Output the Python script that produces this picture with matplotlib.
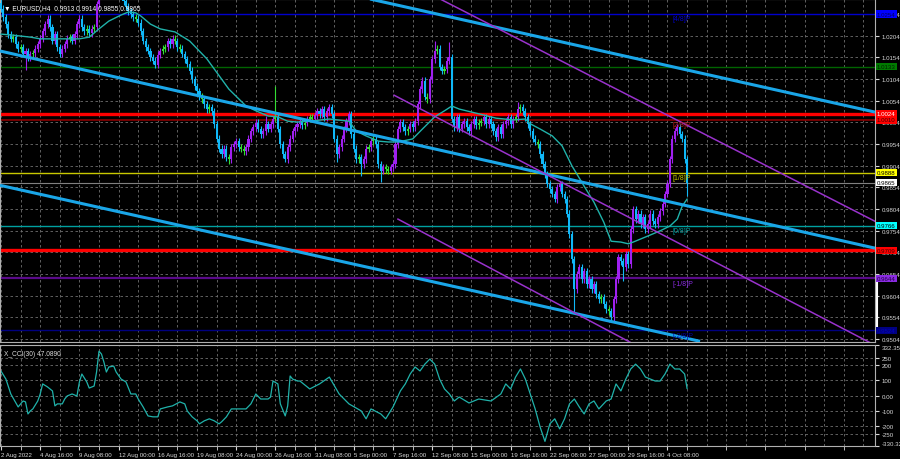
import numpy as np
import matplotlib.pyplot as plt
from matplotlib.transforms import blended_transform_factory

plt.rcParams['font.family'] = ['Liberation Sans', 'DejaVu Sans']

# EURUSD H4, 2 Aug - 5 Oct 2022, closes (one value per bar)
first_open = 1.0280
closes = [
    1.0266, 1.0247, 1.0231, 1.0208, 1.0197, 1.0201, 1.0185, 1.0174, 1.0178, 1.0162,
    1.0169, 1.0155, 1.0162, 1.0164, 1.0174, 1.0185, 1.0197, 1.0215, 1.0231, 1.0243,
    1.0224, 1.0192, 1.0208, 1.0178, 1.0162, 1.0174, 1.0185, 1.0197, 1.0201, 1.0192,
    1.0208, 1.0231, 1.0243, 1.0224, 1.0215, 1.0220, 1.0210, 1.0220, 1.0224, 1.0277,
    1.0301, 1.0317, 1.0331, 1.0312, 1.0324, 1.0340, 1.0354, 1.0335, 1.0321, 1.0307,
    1.0284, 1.0271, 1.0261, 1.0254, 1.0247, 1.0243, 1.0234, 1.0215, 1.0192, 1.0178,
    1.0169, 1.0155, 1.0146, 1.0137, 1.0160, 1.0169, 1.0174, 1.0178, 1.0192, 1.0185,
    1.0197, 1.0192, 1.0178, 1.0174, 1.0162, 1.0150, 1.0139, 1.0123, 1.0104, 1.0088,
    1.0076, 1.0063, 1.0058, 1.0046, 1.0035, 1.0039, 1.0030, 1.0000, 0.9966, 0.9943,
    0.9931, 0.9943, 0.9924, 0.9919, 0.9947, 0.9954, 0.9961, 0.9947, 0.9943, 0.9938,
    0.9947, 0.9966, 0.9984, 0.9993, 1.0003, 0.9989, 0.9977, 0.9984, 1.0000, 0.9989,
    1.0000, 1.0012, 1.0016, 0.9989, 0.9954, 0.9931, 0.9919, 0.9947, 0.9966, 0.9984,
    0.9993, 1.0000, 1.0007, 0.9998, 1.0003, 1.0012, 1.0016, 1.0012, 1.0021, 1.0030,
    1.0023, 1.0035, 1.0016, 1.0030, 1.0039, 1.0023, 0.9966, 0.9931, 0.9947, 0.9966,
    0.9989, 1.0007, 1.0023, 0.9977, 0.9943, 0.9919, 0.9924, 0.9908, 0.9919, 0.9943,
    0.9947, 0.9961, 0.9966, 0.9954, 0.9908, 0.9892, 0.9901, 0.9896, 0.9892, 0.9901,
    0.9908, 0.9954, 0.9989, 1.0005, 0.9993, 0.9984, 0.9989, 1.0000, 0.9993, 1.0007,
    1.0046, 1.0081, 1.0100, 1.0063, 1.0058, 1.0104, 1.0150, 1.0169, 1.0174, 1.0132,
    1.0123, 1.0127, 1.0146, 1.0155, 1.0012, 0.9993, 1.0016, 0.9989, 1.0000, 1.0007,
    0.9993, 0.9984, 1.0000, 1.0012, 0.9998, 1.0003, 1.0007, 1.0016, 1.0000, 1.0012,
    1.0000, 0.9984, 0.9970, 0.9993, 0.9977, 1.0000, 1.0007, 1.0016, 1.0000, 1.0012,
    1.0016, 1.0035, 1.0039, 1.0030, 1.0016, 1.0000, 0.9984, 0.9966, 0.9959, 0.9954,
    0.9931, 0.9908, 0.9885, 0.9862, 0.9850, 0.9839, 0.9827, 0.9855, 0.9862, 0.9839,
    0.9827, 0.9793, 0.9746, 0.9688, 0.9619, 0.9654, 0.9670, 0.9642, 0.9661, 0.9631,
    0.9642, 0.9619, 0.9631, 0.9608, 0.9596, 0.9601, 0.9584, 0.9573, 0.9568, 0.9554,
    0.9596, 0.9642, 0.9693, 0.9684, 0.9670, 0.9700, 0.9677, 0.9758, 0.9804, 0.9781,
    0.9793, 0.9769, 0.9785, 0.9758, 0.9769, 0.9793, 0.9776, 0.9769, 0.9785, 0.9799,
    0.9816, 0.9839, 0.9862, 0.9919, 0.9966, 0.9984, 0.9993, 0.9977, 0.9966, 0.9919,
    0.9865,
]
# long shadows that stick out (bar index -> price)
wick_high = {46: 1.0368, 108: 1.0019, 112: 1.0088, 177: 1.0192, 183: 1.0190,
             211: 1.0051, 276: 1.0000}
wick_low = {10: 1.0125, 63: 1.0130, 93: 0.9908, 116: 0.9913, 137: 0.9913,
            147: 0.9880, 155: 0.9867, 226: 0.9820, 234: 0.9567, 249: 0.9544,
            254: 0.9638, 280: 0.9834}

# moving average (cyan line)
ma_idx = [0, 4, 12, 16, 22, 28, 32, 36, 40, 44, 49, 52, 55, 57, 61, 65, 71, 77,
          84, 93, 100, 104, 109, 113, 117, 121, 126, 134, 142, 145, 149, 154, 158,
          162, 168, 172, 177, 181, 184, 187, 195, 202, 209, 214, 216, 220, 225,
          229, 233, 238, 242, 246, 249, 253, 256, 258, 261, 264, 269, 273, 276,
          278, 280]
ma_val = [1.0208, 1.0206, 1.0201, 1.0197, 1.0197, 1.0197, 1.0197, 1.0201, 1.0220,
          1.0238, 1.0252, 1.0259, 1.0257, 1.0250, 1.0231, 1.0220, 1.0213, 1.0192,
          1.0151, 1.0081, 1.0042, 1.0031, 1.0019, 1.0017, 1.0007, 1.0005, 1.0007,
          1.0012, 1.0007, 0.9984, 0.9973, 0.9961, 0.9959, 0.9959, 0.9966, 0.9989,
          1.0017, 1.0031, 1.0042, 1.0035, 1.0024, 1.0014, 1.0010, 1.0012, 1.0001,
          0.9989, 0.9973, 0.9950, 0.9904, 0.9857, 0.9820, 0.9774, 0.9730, 0.9728,
          0.9724, 0.9728, 0.9735, 0.9742, 0.9754, 0.9765, 0.9781, 0.9811, 0.9827]

# CCI(30) sub-window
cci_idx = [0, 2, 4, 7, 8, 9, 10, 11, 12, 13, 15, 16, 17, 19, 21, 22, 23, 25, 26,
           27, 29, 31, 32, 33, 35, 36, 38, 39, 40, 41, 42, 43, 44, 46, 47, 49, 51,
           53, 55, 56, 58, 60, 62, 64, 65, 68, 70, 73, 75, 76, 78, 80, 81, 83, 85,
           87, 89, 90, 92, 94, 96, 100, 102, 104, 106, 109, 110, 111, 113, 114,
           116, 117, 118, 119, 121, 122, 126, 130, 134, 138, 142, 147, 149, 151,
           155, 157, 160, 163, 165, 167, 169, 171, 173, 175, 177, 179, 181, 183,
           185, 187, 191, 195, 200, 204, 206, 208, 210, 212, 214, 216, 218, 220,
           222, 224, 226, 228, 230, 232, 234, 236, 238, 240, 242, 244, 247, 249,
           251, 253, 255, 257, 259, 261, 263, 265, 267, 269, 271, 273, 275, 277,
           279, 280]
cci_val = [161, 109, 11, -74, -54, -35, -41, -120, -100, -87, -35, 11, 77, 57, 31,
           -67, -54, -54, -22, -2, 11, -2, 90, 142, 90, 50, 63, 155, 292, 273, 220,
           155, 188, 194, 155, 109, 90, 11, 11, -22, -74, -133, -139, -139, -87,
           -74, -67, -41, -54, -100, -139, -165, -185, -165, -152, -165, -185,
           -172, -139, -87, -87, -87, -54, 11, -22, -22, -9, 96, 77, -54, -133,
           -67, 129, 109, 96, 96, 44, 77, 122, 11, -54, -100, -152, -87, -120,
           -152, -74, 31, 77, 142, 188, 162, 207, 240, 207, 109, 44, 11, -35, -9,
           -48, -22, -35, 11, 77, 44, 122, 175, 109, 11, -87, -205, -300, -185,
           -152, -218, -152, -54, -22, -74, -120, -54, -35, -87, -35, -22, 77, 31,
           109, 175, 207, 175, 122, 109, 96, 96, 142, 207, 175, 175, 142, 47]

date_labels = ['2 Aug 2022', '4 Aug 16:00', '9 Aug 08:00', '12 Aug 00:00',
               '16 Aug 16:00', '19 Aug 08:00', '24 Aug 00:00', '26 Aug 16:00',
               '31 Aug 08:00', '5 Sep 00:00', '7 Sep 16:00', '12 Sep 08:00',
               '15 Sep 00:00', '19 Sep 16:00', '22 Sep 08:00', '27 Sep 00:00',
               '29 Sep 16:00', '4 Oct 08:00']
price_ticks = [1.0254, 1.0204, 1.0154, 1.0104, 1.0054, 1.0004, 0.9954, 0.9904,
               0.9854, 0.9804, 0.9754, 0.9704, 0.9654, 0.9604, 0.9554, 0.9504]
cci_ticks = [332.3558, 250, 200, 100, 0, -100, -200, -250, -330.3227]
cci_tick_labels = ['332.3558', '250', '200', '100', '0.00', '-100', '-200',
                   '-250', '-330.3227']

# horizontal levels: price, line colour, width, label box colour, label text colour
levels = [
    (1.0254, '#0000cd', 1.0, '#0000ff', '#000060'),
    (1.0133, '#006400', 1.0, '#007a00', '#002000'),
    (1.0024, '#ff0000', 2.4, '#ff0000', '#ffffff'),
    (1.0010, '#8b0000', 1.2, '#ff0000', '#400000'),
    (0.9888, '#c8c800', 1.0, '#ffff00', '#000000'),
    (0.9865, '#808080', 0.8, '#ffffff', '#000000'),
    (0.9766, '#00a0a0', 1.0, '#00ffff', '#000000'),
    (0.9709, '#ff0000', 2.4, '#ff0000', '#400000'),
    (0.9644, '#5a0a8a', 1.6, '#8a2be2', '#200040'),
    (0.9524, '#000080', 1.0, '#000080', '#0000c0'),
]
murrey = [('[4/8]P', 1.0254, '#0000cd'), ('[2/8]P', 1.0010, '#c02020'),
          ('[1/8]P', 0.9888, '#c8c800'), ('[0/8]P', 0.9766, '#00a0a0'),
          ('[-1/8]P', 0.9644, '#8a2be2'), ('[-2/8]P', 0.9524, '#0000a0')]

# channel lines (bar index, price) endpoints
blue_lines = [((-0.4, 1.0169), (356.7, 0.9714)),
              ((150.6, 1.0289), (356.7, 1.0028)),
              ((-0.4, 0.9859), (285.3, 0.9499))]
purple_lines = [((179.2, 1.0289), (356.7, 0.9776)),
                ((160.4, 1.0067), (356.7, 0.9490)),
                ((162.0, 0.9781), (256.7, 0.9497))]

GRID = dict(color='#6e6e6e', linestyle=(0, (3, 3)), linewidth=0.6)
TXT = '#d8d8d8'
FS = 4.4

fig = plt.figure(figsize=(9, 4.6), dpi=100, facecolor='black')
ax = fig.add_axes([0, 1 - 343 / 460, 875 / 900, 343 / 460], facecolor='black')
ax2 = fig.add_axes([0, 13 / 460, 875 / 900, 101 / 460], facecolor='black')

n = len(closes)
idx = np.arange(n)
c = np.array(closes)
o = np.concatenate([[first_open], c[:-1]])
top = np.maximum(o, c)
bot = np.minimum(o, c)
hi = np.array([wick_high.get(i, t + 0.0008) for i, t in enumerate(top)])
lo = np.array([wick_low.get(i, b - 0.0008) for i, b in enumerate(bot)])
cols = []
for oo, cc in zip(o, c):
    if abs(cc - oo) < 0.0006:
        cols.append('#33dd33')
    elif cc > oo:
        cols.append('#a020f0')
    else:
        cols.append('#10b8f8')

for p in price_ticks:
    ax.axhline(p, zorder=0, **GRID)
for k in range(0, 45):
    ax.axvline(8 * k, zorder=0, **GRID)
    ax2.axvline(8 * k, zorder=0, **GRID)

for p, lc, lw, bc, tc in levels:
    ax.axhline(p, color=lc, linewidth=lw, zorder=1)

ax.vlines(idx, lo, hi, colors=cols, linewidth=0.8, zorder=2)
ax.bar(idx, np.maximum(top - bot, 0.0003), bottom=bot, width=0.85, color=cols,
       linewidth=0, zorder=3, antialiased=False)

ax.plot(ma_idx, ma_val, color='#20b2aa', linewidth=1.0, zorder=4)

for (x0, y0), (x1, y1) in blue_lines:
    ax.plot([x0, x1], [y0, y1], color='#1aa6e8', linewidth=2.2, zorder=5,
            solid_capstyle='butt')
for (x0, y0), (x1, y1) in purple_lines:
    ax.plot([x0, x1], [y0, y1], color='#9932cc', linewidth=1.1, zorder=5)

for name, p, col in murrey:
    ax.text(274, p - 0.0003, name, color=col, fontsize=5, va='top', ha='left',
            zorder=6)

ax.set_xlim(-0.41, 356.7)
ax.set_ylim(0.94974, 1.0289)
ax.yaxis.tick_right()
ax.set_yticks(price_ticks)
ax.set_yticklabels(['%.4f' % p for p in price_ticks])
ax.tick_params(axis='y', colors=TXT, labelsize=FS, length=3, pad=1.5)
ax.tick_params(axis='x', bottom=False, labelbottom=False)

tr = blended_transform_factory(ax.transAxes, ax.transData)
for p, lc, lw, bc, tc in levels:
    ax.text(1.002, p, '%.4f' % p, transform=tr, fontsize=FS, color=tc,
            va='center', ha='left', zorder=10, clip_on=False,
            bbox=dict(boxstyle='square,pad=0.2', facecolor=bc, edgecolor='none'))
ax.plot([1.002, 1.002], [0.9634, 0.9527], transform=tr, color='white',
        linewidth=1.5, clip_on=False)

ax.text(0.004, 0.985, '\u25bc EURUSD,H4  0.9913 0.9914 0.9855 0.9865',
        transform=ax.transAxes, color='white', fontsize=FS + 0.4, va='top',
        ha='left')

# CCI window
for v in [250, 200, 100, 0, -100, -200, -250]:
    ax2.axhline(v, zorder=0, **GRID)
ax2.plot(cci_idx, cci_val, color='#20b2aa', linewidth=0.9)
ax2.set_xlim(-0.41, 356.7)
ax2.set_ylim(-330.3227, 332.3558)
ax2.yaxis.tick_right()
ax2.set_yticks(cci_ticks)
ax2.set_yticklabels(cci_tick_labels)
ax2.tick_params(axis='y', colors=TXT, labelsize=FS, length=3, pad=1.5)
for lab in ax2.get_yticklabels():
    if lab.get_text() == '332.3558':
        lab.set_va('top')
    elif lab.get_text() == '-330.3227':
        lab.set_va('bottom')
ax2.text(0.004, 0.95, 'X_CCI(30) 47.0890', transform=ax2.transAxes,
         color=TXT, fontsize=FS + 0.4, va='top', ha='left')

ax2.set_xticks([16 * k for k in range(len(date_labels))])
ax2.set_xticklabels(date_labels)
ax2.set_xticks([8 + 16 * k for k in range(22)], minor=True)
ax2.tick_params(axis='x', which='both', colors=TXT, labelsize=FS, length=3,
                pad=1, direction='out')
for lab in ax2.get_xticklabels():
    lab.set_ha('left')

for a in (ax, ax2):
    for s in a.spines.values():
        s.set_color('#b0b0b0')
        s.set_linewidth(0.8)

fig.savefig('out.png', dpi=100, facecolor='black')
